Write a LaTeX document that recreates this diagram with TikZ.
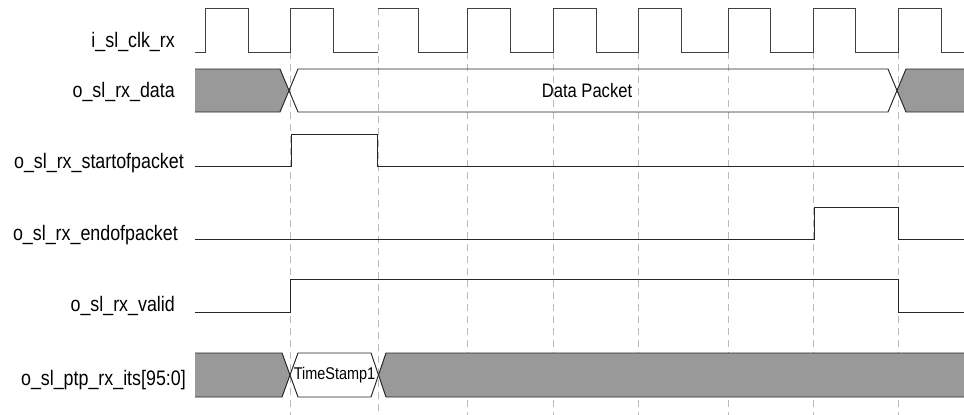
\documentclass[tikz,border=0pt]{standalone}
\usepackage{fontspec}
\setmainfont{Liberation Sans}[FakeStretch=0.85]
\definecolor{busgrey}{HTML}{999999}
\definecolor{gridgrey}{HTML}{BBBBBB}
\begin{document}
\begin{tikzpicture}[x=1pt,y=-1pt,
  sig/.style={line width=0.95pt, draw=black!85, line join=miter},
  clk/.style={line width=0.9pt, draw=black!75},
  gridline/.style={draw=gridgrey, line width=1pt, dash pattern=on 7pt off 5pt},
  greyfill/.style={fill=busgrey},
  lbl/.style={anchor=base east, inner sep=0pt, font=\fontsize{21}{24}\selectfont},
  txt/.style={inner sep=0pt, font=\fontsize{19.5}{22}\selectfont}]
\useasboundingbox (0,0) rectangle (964,415);
% grid lines
\foreach \x in {290,467,553,638,728,813,898}
  \draw[gridline] (\x,52) -- (\x,415);
\draw[gridline] (378,8) -- (378,415);
% clock
\draw[clk] (195,52) -- (205,52) -- (205,8) -- (248,8) -- (248,52) -- (290,52) -- (290,8) -- (333,8) -- (333,52) -- (378,52)
  (378,8) -- (418,8) -- (418,52) -- (467,52) -- (467,8) -- (510,8) -- (510,52) -- (553,52) -- (553,8) -- (596,8) -- (596,52)
  -- (638,52) -- (638,8) -- (681,8) -- (681,52) -- (728,52) -- (728,8) -- (770,8) -- (770,52) -- (813,52) -- (813,8)
  -- (855,8) -- (855,52) -- (898,52) -- (898,8) -- (941,8) -- (941,52) -- (964,52);
% data bus
\fill[greyfill] (195,69) -- (280,69) -- (289,90.5) -- (280,112) -- (195,112) -- cycle;
\fill[greyfill] (964,69) -- (906,69) -- (897,90.5) -- (906,112) -- (964,112) -- cycle;
\draw[sig] (195,69) -- (280,69) -- (298,112) -- (888,112) -- (906,69) -- (964,69);
\draw[sig] (195,112) -- (280,112) -- (298,69) -- (888,69) -- (906,112) -- (964,112);
\node[txt] (dp) at (587,90.5) {Data Packet};
% start of packet
\draw[sig] (195,166) -- (291,166) -- (291,134) -- (377,134) -- (377,166) -- (964,166);
% end of packet
\draw[sig] (195,239) -- (814,239) -- (814,207) -- (898,207) -- (898,239) -- (964,239);
% valid
\draw[sig] (195,312) -- (290,312) -- (290,279) -- (898,279) -- (898,312) -- (964,312);
% timestamp bus
\fill[greyfill] (195,353) -- (282,353) -- (290,375) -- (282,397) -- (195,397) -- cycle;
\fill[greyfill] (964,353) -- (386,353) -- (378.5,375) -- (386,397) -- (964,397) -- cycle;
\draw[sig] (195,353) -- (282,353) -- (298,397) -- (371,397) -- (386,353) -- (964,353);
\draw[sig] (195,397) -- (282,397) -- (298,353) -- (371,353) -- (386,397) -- (964,397);
\node[txt, font=\fontsize{17}{20}\selectfont] (ts) at (334.5,375) {TimeStamp1};
% labels
\node[lbl] (l1) at (175,47) {i\_sl\_clk\_rx};
\node[lbl] (l2) at (175,97) {o\_sl\_rx\_data};
\node[lbl] (l3) at (184,168) {o\_sl\_rx\_startofpacket};
\node[lbl] (l4) at (178,240) {o\_sl\_rx\_endofpacket};
\node[lbl] (l5) at (175,311) {o\_sl\_rx\_valid};
\node[lbl] (l6) at (186,385) {o\_sl\_ptp\_rx\_its[95:0]};
\end{tikzpicture}
\end{document}
